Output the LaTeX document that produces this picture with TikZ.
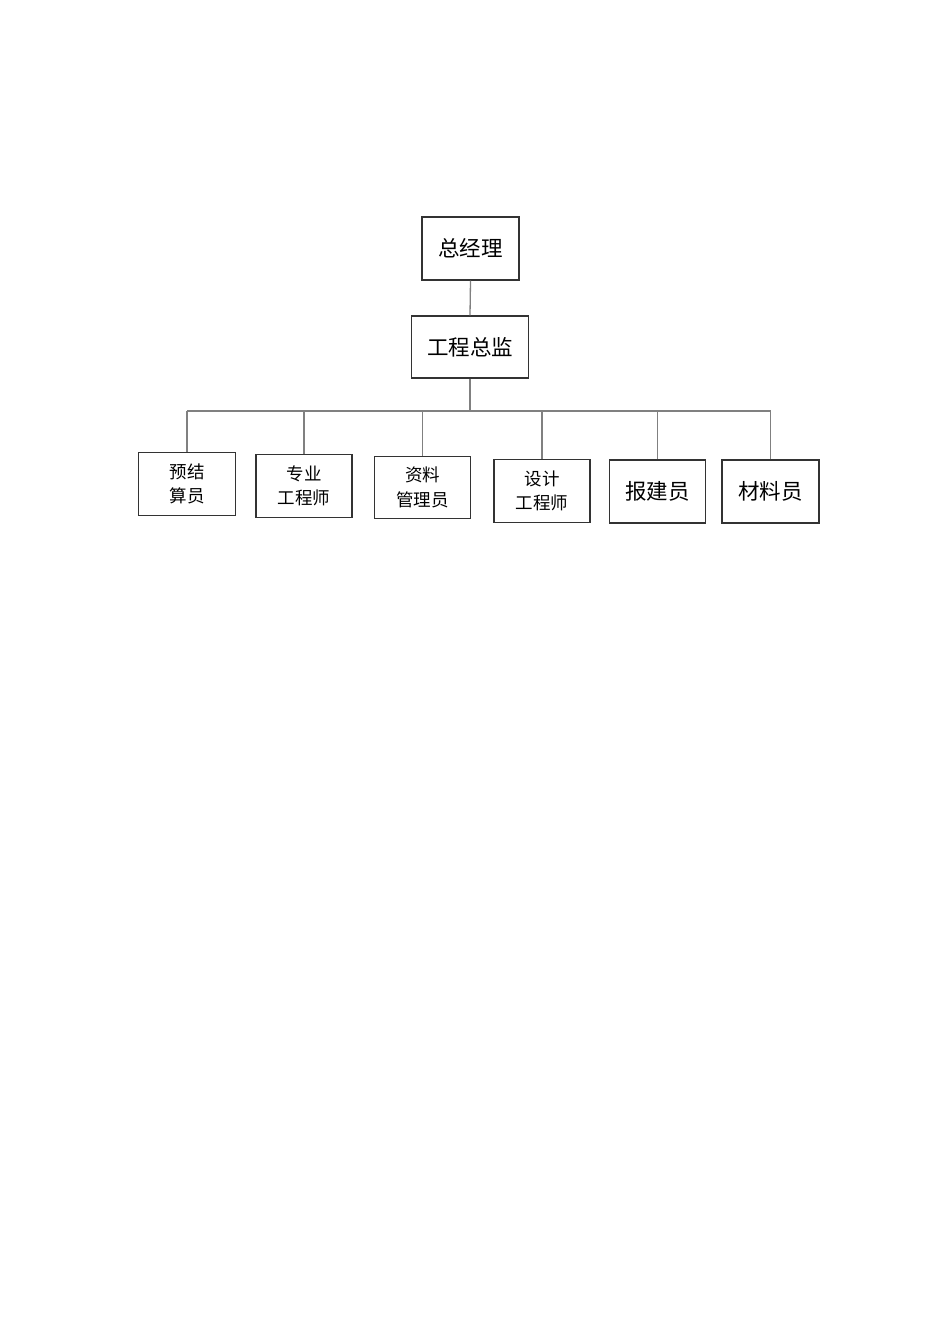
\documentclass[tikz,border=0pt]{standalone}
\usepackage{fontspec}
\setmainfont{Noto Sans CJK SC}
\begin{document}
\begin{tikzpicture}[x=1bp,y=-1bp,
  box/.style={draw=black!80,line width=1.3bp,inner sep=0pt,align=center},
  big/.style={font=\fontsize{21.5bp}{26bp}\selectfont},
  small/.style={font=\fontsize{17.5bp}{24.5bp}\selectfont},
  link/.style={draw=black!50,line width=1.3bp}]
\useasboundingbox (0,0) rectangle (950,1344);
\fill[white] (0,0) rectangle (950,1344);
\node[box,big,minimum width=97bp,minimum height=63bp] (gm) at (470.5,248.5) {总经理};
\node[box,big,minimum width=117bp,minimum height=62bp] (cd) at (470,347) {工程总监};
\node[box,small,minimum width=97bp,minimum height=63bp] (b1) at (187,484) {预结\\算员};
\node[box,small,minimum width=96bp,minimum height=63bp] (b2) at (304,486) {专业\\工程师};
\node[box,small,minimum width=96bp,minimum height=62bp] (b3) at (422.5,487.5) {资料\\管理员};
\node[box,small,minimum width=96bp,minimum height=63bp] (b4) at (542,491) {设计\\工程师};
\node[box,big,minimum width=96bp,minimum height=63bp] (b5) at (657.5,491.5) {报建员};
\node[box,big,minimum width=97bp,minimum height=63bp] (b6) at (770.5,491.5) {材料员};
\coordinate (busL) at (187,411);
\coordinate (busR) at (771,411);
\draw[link] (gm.south) -- (cd.north);
\draw[link] (cd.south) -- (cd.south |- busL);
\draw[link] (busL) -- (busR);
\foreach \b in {b1,b2,b3,b4,b5,b6}{
  \draw[link] (\b.north) -- (\b.north |- busL);
}
\end{tikzpicture}
\end{document}
